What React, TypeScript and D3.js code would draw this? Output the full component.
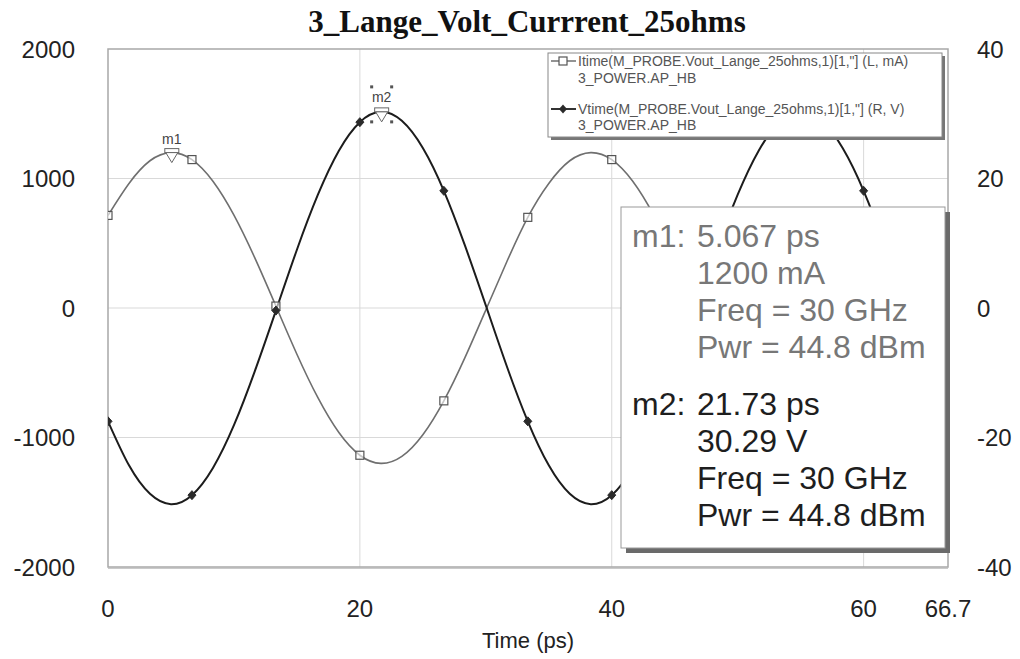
import React from "react";
import * as d3 from "d3";

const title = "3_Lange_Volt_Currrent_25ohms";
const xLabel = "Time (ps)";

const timePs = [0, 1.667, 3.333, 5, 6.667, 8.333, 10, 11.667, 13.333, 15, 16.667, 18.333, 20, 21.667, 23.333, 25, 26.667, 28.333, 30, 31.667, 33.333, 35, 36.667, 38.333, 40, 41.667, 43.333, 45, 46.667, 48.333, 50, 51.667, 53.333, 55, 56.667, 58.333, 60, 61.667, 63.333, 65, 66.667];

const currentMA = [715, 962, 1137, 1200, 1146, 979, 717, 385, 15, -357, -693, -962, -1137, -1200, -1146, -979, -717, -385, -15, 357, 700, 962, 1137, 1200, 1146, 979, 717, 385, 15, -357, -693, -962, -1137, -1200, -1146, -979, -717, -385, -15, 357, 700];

const voltageV = [-17.5, -24.3, -28.7, -30.3, -28.9, -24.7, -18.1, -9.7, -0.4, 9.0, 17.5, 24.3, 28.7, 30.3, 28.9, 24.7, 18.1, 9.7, 0.4, -9.0, -17.5, -24.3, -28.7, -30.3, -28.9, -24.7, -18.1, -9.7, -0.4, 9.0, 17.5, 24.3, 28.7, 30.3, 28.9, 24.7, 18.1, 9.7, 0.4, -9.0, -17.5];

const xTicks = [0, 20, 40, 60, 66.7];
const leftTicks = [2000, 1000, 0, -1000, -2000];
const rightTicks = [40, 20, 0, -20, -40];
const gridX = [20, 40, 60];
const gridLeft = [1000, 0, -1000];

const legendLines = [
  ["Itime(M_PROBE.Vout_Lange_25ohms,1)[1,\"] (L, mA)", "3_POWER.AP_HB"],
  ["Vtime(M_PROBE.Vout_Lange_25ohms,1)[1,\"] (R, V)", "3_POWER.AP_HB"],
];

const m1 = { name: "m1", t: 5.067, v: 1200, lines: ["5.067 ps", "1200 mA", "Freq = 30 GHz", "Pwr = 44.8 dBm"] };
const m2 = { name: "m2", t: 21.73, v: 30.29, lines: ["21.73 ps", "30.29 V", "Freq = 30 GHz", "Pwr = 44.8 dBm"] };

const SANS = "'Liberation Sans', Arial, Helvetica, sans-serif";
const SERIF = "'Liberation Serif', 'Times New Roman', serif";

export default function App() {
  const L = 108, R = 948, T = 49, B = 567;
  const x = d3.scaleLinear().domain([0, 66.7]).range([L, R]);
  const yL = d3.scaleLinear().domain([-2000, 2000]).range([B, T]);
  const yR = d3.scaleLinear().domain([-40, 40]).range([B, T]);

  const idx = timePs.map((_, i) => i);
  const curLine = d3.line<number>().x(i => x(timePs[i])).y(i => yL(currentMA[i])).curve(d3.curveNatural)(idx) || "";
  const volLine = d3.line<number>().x(i => x(timePs[i])).y(i => yR(voltageV[i])).curve(d3.curveNatural)(idx) || "";
  const symIdx = idx.filter(i => i % 4 === 0);

  const m1x = x(m1.t), m1y = yL(m1.v);
  const m2x = x(m2.t), m2y = yR(m2.v);

  const marker = (mx: number, my: number, name: string, sel: boolean) => (
    <g>
      <rect x={mx - 7} y={my - 4} width={14} height={4} fill="white" stroke="#666" strokeWidth={1} />
      <path d={`M${mx - 6},${my} L${mx + 6},${my} L${mx},${my + 10} Z`} fill="white" stroke="#666" strokeWidth={1} />
      <text x={mx} y={my - (sel ? 10 : 9)} textAnchor="middle" fontFamily={SANS} fontSize={14} fill="#444">{name}</text>
      {sel && [[-10, -25], [10, -25], [-10, 10], [10, 10]].map(([dx, dy], k) => (
        <rect key={k} x={mx + dx - 1.5} y={my + dy - 1.5} width={3} height={3} fill="#555" />
      ))}
    </g>
  );

  const boxX = 621, boxY = 207, boxW = 324, boxH = 341;
  const baseM1 = [247, 284, 321, 358];
  const baseM2 = [415, 452, 489, 526];

  return (
    <svg width={1020} height={659} style={{ position: "absolute", left: 0, top: 0, background: "white" }}>
      <rect x={0} y={0} width={1020} height={659} fill="white" />
      <defs>
        <clipPath id="plotClip">
          <rect x={L} y={T} width={R - L} height={B - T} />
        </clipPath>
      </defs>
      <text x={527} y={32} textAnchor="middle" fontFamily={SERIF} fontWeight="bold" fontSize={31} fill="#111">{title}</text>

      {/* grid */}
      {gridX.map(v => <line key={"gx" + v} x1={x(v)} x2={x(v)} y1={T} y2={B} stroke="#d9d9d9" strokeWidth={1} />)}
      {gridLeft.map(v => <line key={"gy" + v} x1={L} x2={R} y1={yL(v)} y2={yL(v)} stroke="#d9d9d9" strokeWidth={1} />)}

      {/* frame */}
      <rect x={L} y={T} width={R - L} height={B - T} fill="none" stroke="#a8a8a8" strokeWidth={1.5} />
      <line x1={L} x2={R} y1={B + 1} y2={B + 1} stroke="#b8b8b8" strokeWidth={1.5} />

      {/* curves */}
      <g clipPath="url(#plotClip)">
        <path d={curLine} fill="none" stroke="#6f6f6f" strokeWidth={1.6} />
        <path d={volLine} fill="none" stroke="#1c1c1c" strokeWidth={2} />
        {symIdx.map(i => (
          <rect key={"s" + i} x={x(timePs[i]) - 4} y={yL(currentMA[i]) - 4} width={8} height={8} fill="white" fillOpacity={0.6} stroke="#555" strokeWidth={1.2} />
        ))}
        {symIdx.map(i => {
          const cx = x(timePs[i]), cy = yR(voltageV[i]);
          return <path key={"d" + i} d={`M${cx},${cy - 4.5} L${cx + 4},${cy} L${cx},${cy + 4.5} L${cx - 4},${cy} Z`} fill="#2a2a2a" stroke="#2a2a2a" strokeWidth={1} />;
        })}
      </g>

      {marker(m1x, m1y, m1.name, false)}
      {marker(m2x, m2y, m2.name, true)}

      {/* axes labels */}
      {leftTicks.map(v => (
        <text key={"l" + v} x={75} y={yL(v) + 8.5} textAnchor="end" fontFamily={SANS} fontSize={24} fill="#222">{v}</text>
      ))}
      {rightTicks.map(v => (
        <text key={"r" + v} x={977} y={yR(v) + 8.5} textAnchor="start" fontFamily={SANS} fontSize={24} fill="#222">{v}</text>
      ))}
      {xTicks.map(v => (
        <text key={"x" + v} x={x(v)} y={617} textAnchor="middle" fontFamily={SANS} fontSize={24} fill="#222">{v}</text>
      ))}
      <text x={528} y={648} textAnchor="middle" fontFamily={SANS} fontSize={22} fill="#222">{xLabel}</text>

      {/* legend */}
      <rect x={551} y={56} width={394} height={84} fill="#777" />
      <rect x={548} y={53} width={394} height={84} fill="white" stroke="#888" strokeWidth={1} />
      <line x1={551} x2={576} y1={61} y2={61} stroke="#6f6f6f" strokeWidth={1.5} />
      <rect x={559} y={57} width={8} height={8} fill="white" stroke="#555" strokeWidth={1.2} />
      <line x1={551} x2={576} y1={109} y2={109} stroke="#1c1c1c" strokeWidth={1.8} />
      <path d="M563,104.5 L567,109 L563,113.5 L559,109 Z" fill="#2a2a2a" />
      <text x={578} y={66} fontFamily={SANS} fontSize={14} fill="#555">{legendLines[0][0]}</text>
      <text x={578} y={83} fontFamily={SANS} fontSize={14} fill="#555">{legendLines[0][1]}</text>
      <text x={578} y={114} fontFamily={SANS} fontSize={14} fill="#555">{legendLines[1][0]}</text>
      <text x={578} y={130} fontFamily={SANS} fontSize={14} fill="#555">{legendLines[1][1]}</text>

      {/* marker readout box */}
      <rect x={boxX + 5} y={boxY + 5} width={boxW} height={boxH} fill="#6a6a6a" />
      <rect x={boxX} y={boxY} width={boxW} height={boxH} fill="white" stroke="#999" strokeWidth={1} />
      <text x={632} y={baseM1[0]} fontFamily={SANS} fontSize={32} fill="#777">{m1.name + ":"}</text>
      {m1.lines.map((s, k) => (
        <text key={"m1" + k} x={697} y={baseM1[k]} fontFamily={SANS} fontSize={32} fill="#777">{s}</text>
      ))}
      <text x={632} y={baseM2[0]} fontFamily={SANS} fontSize={32} fill="#1e1e1e">{m2.name + ":"}</text>
      {m2.lines.map((s, k) => (
        <text key={"m2" + k} x={697} y={baseM2[k]} fontFamily={SANS} fontSize={32} fill="#1e1e1e">{s}</text>
      ))}
    </svg>
  );
}
